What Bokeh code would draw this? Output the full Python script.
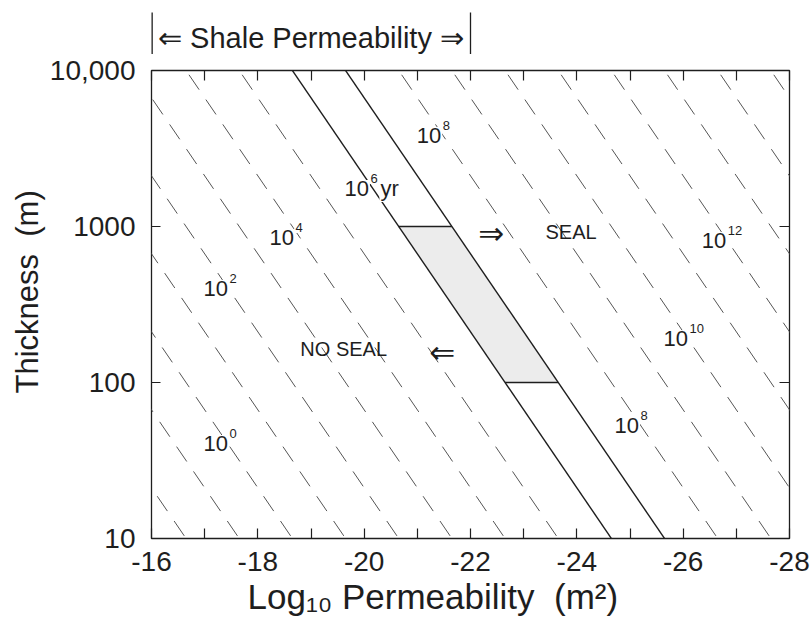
import numpy as np
from bokeh.plotting import figure
from bokeh.layouts import column
from bokeh.models import Range1d, FixedTicker, Title, LinearAxis, LogAxis
from bokeh.core.properties import value
from bokeh.embed import file_html
from bokeh.resources import INLINE

# Seal-time contours: exponents of t (years) for each line drawn
contour_exponents = [-2, -1, 0, 1, 2, 3, 4, 5, 6, 7, 8, 9, 10, 11, 12, 13, 14, 15]
solid_exponents = [6, 7]
# log10 t = 2 log10 h - log10 k - offset   (t ~ h^2 / k)
seal_time_offset = 20.65

# Seal window: thickness band bounded by the 10^6 and 10^7 yr lines
window_thickness = [100, 1000]

# Contour labels: exponent of 10, permeability (log10 m^2), thickness (m)
label_exponents = ["0", "2", "4", "6", "8", "8", "10", "12"]
label_logk = [-16.96, -16.96, -18.20, -19.61, -20.97, -24.69, -25.61, -26.33]
label_thickness = [40.6, 401, 849, 1754, 3831, 53, 191, 813]
unit_label = "yr"
unit_logk = -19.61
unit_thickness = 1754

# Region annotations
region_text = ["SEAL", "NO SEAL"]
region_logk = [-23.41, -18.80]
region_thickness = [916, 165]
arrow_text = ["\u21d2", "\u21d0"]
arrow_logk = [-22.39, -21.47]
arrow_thickness = [902, 158]

# Axes (log10 permeability decreases to the right)
x_ticks = [-16, -18, -20, -22, -24, -26, -28]
x_minor = [-17, -19, -21, -23, -25, -27]
y_ticks = [10, 100, 1000, 10000]
y_tick_labels = ["10", "100", "1000", "10,000"]

# Typical shale permeability range (log10 m^2)
shale_range = [-16, -22]
shale_text = "\u21d0 Shale Permeability \u21d2"

FONT = "Liberation Sans"
INK = "#1e1e1e"
NBSP = "\u00a0"


def log_k(exponent, h):
    return 2 * np.log10(h) - exponent - seal_time_offset


def sx(values):
    # plot coordinate: -log10 k, so permeability falls from left to right
    return [-v for v in values]


# ---------------------------------------------------------------- main chart
p = figure(width=812, height=576,
           x_range=Range1d(-x_ticks[0], -x_ticks[-1]), y_range=Range1d(10, 10000),
           y_axis_type="log", output_backend="svg", toolbar_location=None,
           title_location=None,
           min_border_left=151, min_border_right=23,
           min_border_top=16, min_border_bottom=92,
           background_fill_color="white", border_fill_color="white")
p.grid.visible = False
p.outline_line_color = INK
p.outline_line_width = 1.3

# shaded seal window between the 10^6 and 10^7 yr lines
h_lo, h_hi = window_thickness
px = [log_k(6, h_hi), log_k(7, h_hi), log_k(7, h_lo), log_k(6, h_lo)]
py = [h_hi, h_hi, h_lo, h_lo]
p.patch(sx(px), py, fill_color="#ececec", line_color=None)
p.segment(x0=sx([log_k(6, h_hi), log_k(6, h_lo)]), y0=[h_hi, h_lo],
          x1=sx([log_k(7, h_hi), log_k(7, h_lo)]), y1=[h_hi, h_lo],
          line_color=INK, line_width=1.4)

# contour lines
h_ends = [5, 20000]
dashed = [e for e in contour_exponents if e not in solid_exponents]
p.multi_line(xs=[sx([log_k(e, h) for h in h_ends]) for e in dashed],
             ys=[h_ends for _ in dashed],
             line_color="#555555", line_width=1.0, line_dash="18 12")
p.multi_line(xs=[sx([log_k(e, h) for h in h_ends]) for e in solid_exponents],
             ys=[h_ends for _ in solid_exponents],
             line_color=INK, line_width=1.4)

# contour labels: 10^n
n = len(label_exponents)
p.text(x=sx(label_logk), y=label_thickness, text=["10"] * n,
       text_font=value(FONT), text_font_size="22px", text_color=INK,
       text_align="left", text_baseline="alphabetic",
       background_fill_color="white", padding=1)
p.text(x=sx([unit_logk]), y=[unit_thickness], text=[unit_label],
       x_offset=36,
       text_font=value(FONT), text_font_size="22px", text_color=INK,
       text_align="left", text_baseline="alphabetic",
       background_fill_color="white", padding=1)
p.text(x=sx(label_logk), y=label_thickness, text=label_exponents,
       x_offset=26, y_offset=-10,
       text_font=value(FONT), text_font_size="13px", text_color=INK,
       text_align="left", text_baseline="alphabetic",
       background_fill_color="white", padding=1)

# SEAL / NO SEAL with arrows
p.text(x=sx(region_logk), y=region_thickness, text=region_text,
       text_font=value(FONT), text_font_size="20px", text_color=INK,
       text_align="left", text_baseline="middle")
p.text(x=sx(arrow_logk), y=arrow_thickness, text=arrow_text,
       text_font=value("DejaVu Sans"), text_font_size="31px", text_color=INK,
       text_align="center", text_baseline="middle")

# bottom axis
tick_overrides = {-t: str(t) for t in x_ticks}
xa = p.xaxis[0]
xa.ticker = FixedTicker(ticks=sx(x_ticks), minor_ticks=sx(x_minor))
xa.major_label_overrides = tick_overrides
xa.axis_line_color = None
xa.major_tick_in = 10
xa.major_tick_out = 0
xa.minor_tick_in = 10
xa.minor_tick_out = 0
xa.major_tick_line_color = INK
xa.minor_tick_line_color = INK
xa.major_tick_line_width = 1.2
xa.minor_tick_line_width = 1.2
xa.major_label_standoff = 13
xa.major_label_text_font = FONT
xa.major_label_text_font_size = "28px"
xa.major_label_text_color = INK

# left axis
ya = p.yaxis[0]
ya.ticker = FixedTicker(ticks=y_ticks, minor_ticks=[])
ya.major_label_overrides = dict(zip(y_ticks, y_tick_labels))
ya.axis_line_color = None
ya.major_tick_in = 9
ya.major_tick_out = 0
ya.minor_tick_line_color = None
ya.major_tick_line_color = INK
ya.major_label_standoff = 16
ya.major_label_text_font = FONT
ya.major_label_text_font_size = "28px"
ya.major_label_text_color = INK

# mirrored inward ticks on the top and right edges (labels not drawn)
top = LinearAxis(ticker=FixedTicker(ticks=sx(x_ticks), minor_ticks=sx(x_minor)),
                 axis_line_color=None, major_tick_in=10, major_tick_out=0,
                 minor_tick_in=10, minor_tick_out=0,
                 major_tick_line_color=INK, minor_tick_line_color=INK,
                 major_tick_line_width=1.2, minor_tick_line_width=1.2,
                 major_label_text_color=None, major_label_text_font_size="6px",
                 major_label_standoff=0)
p.add_layout(top, "above")
right = LogAxis(ticker=FixedTicker(ticks=y_ticks, minor_ticks=[]),
                axis_line_color=None, major_tick_in=10, major_tick_out=0,
                minor_tick_line_color=None, major_tick_line_color=INK,
                major_label_text_color=None, major_label_text_font_size="6px",
                major_label_standoff=0)
p.add_layout(right, "right")

# axis titles
p.add_layout(Title(text="Thickness" + NBSP * 2 + "(m)", align="left", offset=145,
                   text_font=FONT, text_font_size="31px", text_font_style="normal",
                   text_color=INK, standoff=4), "left")
p.add_layout(Title(text="Log\u2081\u2080 Permeability" + NBSP * 2 + "(m\u00b2)",
                   align="left", offset=96,
                   text_font=FONT, text_font_size="35px", text_font_style="normal",
                   text_color=INK, standoff=2), "below")

# ------------------------------------------------- shale permeability bracket
hdr = figure(width=812, height=54,
             x_range=p.x_range, y_range=Range1d(0, 54),
             output_backend="svg", toolbar_location=None, title_location=None,
             x_axis_location=None, y_axis_location=None,
             min_border_left=151, min_border_right=23,
             min_border_top=0, min_border_bottom=0,
             background_fill_color="white", border_fill_color="white",
             outline_line_color=None)
hdr.grid.visible = False
# the left bar sits on the frame edge, where half its width is clipped
hdr.segment(x0=sx(shale_range), x1=sx(shale_range), y0=0, y1=42,
            line_color=INK, line_width=[2.6, 1.3])
hdr.text(x=sx([sum(shale_range) / 2]), y=[17], text=[shale_text],
         text_font=value(FONT), text_font_size="29px", text_color=INK,
         text_align="center", text_baseline="middle")

layout = column(hdr, p, spacing=0)
open("out.html", "w").write(file_html(layout, INLINE))
